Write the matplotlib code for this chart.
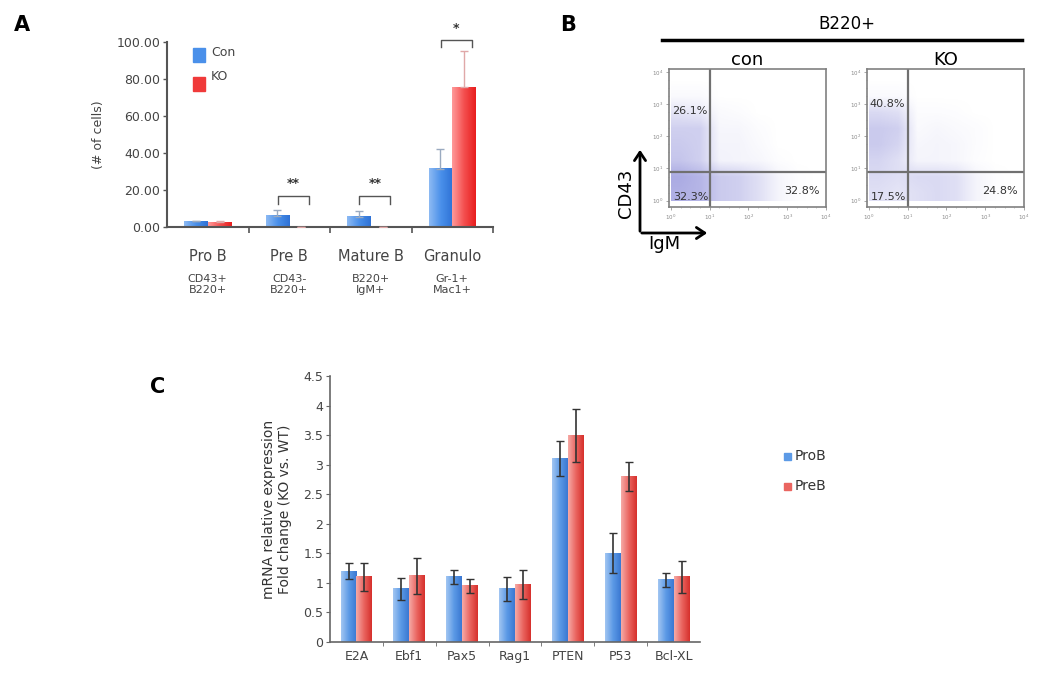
import numpy as np
import matplotlib
matplotlib.use('Agg')
import matplotlib.pyplot as plt
from matplotlib.colors import LinearSegmentedColormap
from matplotlib.patches import Rectangle

# ---- panel A data
a_cats = ['Pro B', 'Pre B', 'Mature B', 'Granulo']
a_sub = ['CD43+\nB220+', 'CD43-\nB220+', 'B220+\nIgM+', 'Gr-1+\nMac1+']
a_con = [3.0, 6.0, 5.5, 31.5]
a_con_err = [0.5, 3.0, 3.0, 10.5]
a_ko = [2.5, 0.0, 0.0, 75.5]
a_ko_err = [0.5, 0.0, 0.0, 19.5]
a_sig = ['', '**', '**', '*']
a_sig_y = [0, 17, 17, 101]
a_yticks = [0, 20, 40, 60, 80, 100]

# ---- panel B data (log10 decades), density read by eye on an 8x8 grid
b_titles = ['con', 'KO']
b_dens_con = [[0.00, 0.00, 0.00, 0.00, 0.00, 0.00, 0.00, 0.00],
              [0.05, 0.05, 0.00, 0.00, 0.00, 0.00, 0.00, 0.00],
              [0.25, 0.20, 0.05, 0.03, 0.00, 0.00, 0.00, 0.00],
              [0.45, 0.45, 0.08, 0.08, 0.03, 0.00, 0.00, 0.00],
              [0.50, 0.45, 0.10, 0.10, 0.05, 0.00, 0.00, 0.00],
              [0.55, 0.45, 0.12, 0.10, 0.08, 0.02, 0.00, 0.00],
              [0.80, 0.70, 0.50, 0.45, 0.30, 0.10, 0.02, 0.00],
              [0.75, 0.70, 0.50, 0.45, 0.30, 0.10, 0.02, 0.00]]
b_dens_ko = [[0.00, 0.00, 0.00, 0.00, 0.00, 0.00, 0.00, 0.00],
             [0.05, 0.05, 0.00, 0.00, 0.00, 0.00, 0.00, 0.00],
             [0.35, 0.30, 0.03, 0.03, 0.02, 0.00, 0.00, 0.00],
             [0.50, 0.45, 0.05, 0.08, 0.05, 0.03, 0.00, 0.00],
             [0.50, 0.40, 0.08, 0.10, 0.08, 0.03, 0.00, 0.00],
             [0.40, 0.30, 0.10, 0.10, 0.08, 0.02, 0.00, 0.00],
             [0.35, 0.30, 0.35, 0.35, 0.30, 0.10, 0.02, 0.00],
             [0.30, 0.25, 0.30, 0.35, 0.30, 0.10, 0.02, 0.00]]
b_gate_x = 1.0
b_gate_y = 0.9
b_pct_con = ['26.1%', '32.3%', '32.8%']
b_pct_ko = ['40.8%', '17.5%', '24.8%']
b_pct_ul_y = [2.8, 3.0]

# ---- panel C data
c_genes = ['E2A', 'Ebf1', 'Pax5', 'Rag1', 'PTEN', 'P53', 'Bcl-XL']
c_prob = [1.2, 0.9, 1.1, 0.9, 3.1, 1.5, 1.05]
c_prob_err = [0.13, 0.19, 0.12, 0.2, 0.3, 0.34, 0.12]
c_preb = [1.1, 1.12, 0.95, 0.97, 3.5, 2.8, 1.1]
c_preb_err = [0.23, 0.3, 0.12, 0.25, 0.45, 0.25, 0.27]

W, H = 1050, 674
fig = plt.figure(figsize=(10.5, 6.74), dpi=100)
plt.rcParams['font.family'] = ['DejaVu Sans']


def rect(l, t, r, b):
    return [l / W, 1 - b / H, (r - l) / W, (b - t) / H]


def fx(x):
    return x / W


def fy(y):
    return 1 - y / H


def grad_bars(ax, x, h, w, colors):
    bars = ax.bar(x, h, w, color=colors[-1], zorder=2)
    cmap = LinearSegmentedColormap.from_list('g', colors)
    g = np.linspace(0, 1, 64).reshape(1, -1)
    for b in bars:
        x0, y0 = b.get_x(), b.get_y()
        if b.get_height() <= 0:
            continue
        ax.imshow(g, extent=(x0, x0 + b.get_width(), y0, y0 + b.get_height()),
                  aspect='auto', cmap=cmap, zorder=2.1, interpolation='bilinear')
    return bars


# ================= Panel A
axA = fig.add_axes(rect(167, 42, 493, 227))
xa = np.arange(len(a_cats)) + 0.5
bw = 0.29
grad_bars(axA, xa - bw / 2, a_con, bw, ['#8dbaf3', '#4a90ea', '#2f72d6'])
grad_bars(axA, xa + bw / 2, a_ko, bw, ['#ff9a9a', '#f45050', '#e81e1e'])
axA.errorbar(xa - bw / 2, a_con, yerr=[np.zeros(4), a_con_err], fmt='none',
             ecolor='#9aaac0', elinewidth=1, capsize=3, zorder=3)
axA.errorbar(xa + bw / 2, a_ko, yerr=[np.zeros(4), a_ko_err], fmt='none',
             ecolor='#e0a8a8', elinewidth=1, capsize=3, zorder=3)
for i, s in enumerate(a_sig):
    if not s:
        continue
    y = a_sig_y[i]
    x0, x1 = xa[i] - 0.14, xa[i] + 0.24
    leg = 4.5 if i < 3 else 3.5
    axA.plot([x0, x0, x1, x1], [y - leg, y, y, y - leg], color='#555555',
             lw=1, clip_on=False)
    axA.text((x0 + x1) / 2, y + 3, s, ha='center', va='bottom', fontsize=9,
             color='#333333', fontweight='bold')
axA.set_xlim(0, 4)
axA.set_ylim(0, 100)
axA.set_yticks(a_yticks)
axA.set_yticklabels(['%.2f' % v for v in a_yticks], fontsize=9, color='#444444')
axA.set_xticks([1, 2, 3, 4])
axA.set_xticklabels([])
axA.tick_params(axis='x', direction='out', length=4, width=1.2, color='#555555')
axA.tick_params(axis='y', direction='out', length=3, width=1, color='#555555', pad=2)
for sp in ['top', 'right']:
    axA.spines[sp].set_visible(False)
for sp in ['left', 'bottom']:
    axA.spines[sp].set_color('#555555')
    axA.spines[sp].set_linewidth(1.5)
axA.set_ylabel('(# of cells)', fontsize=9, color='#444444', labelpad=8)
for i in range(len(a_cats)):
    axA.text(xa[i], -16, a_cats[i], ha='center', va='center', fontsize=10.5,
             color='#444444', clip_on=False)
    axA.text(xa[i], -31, a_sub[i], ha='center', va='center', fontsize=8,
             color='#444444', linespacing=1.1, clip_on=False)
# legend A
fig.add_artist(Rectangle((fx(193), fy(62)), fx(12), 14 / H, transform=fig.transFigure,
                         color='#4a90ea'))
fig.add_artist(Rectangle((fx(193), fy(91)), fx(12), 14 / H, transform=fig.transFigure,
                         color='#f03a3a'))
fig.text(fx(211), fy(52), 'Con', fontsize=9, color='#444444', va='center')
fig.text(fx(211), fy(76), 'KO', fontsize=9, color='#444444', va='center')
fig.text(fx(14), fy(25), 'A', fontsize=15, fontweight='bold', va='center')

# ================= Panel B
fig.text(fx(560), fy(25), 'B', fontsize=15, fontweight='bold', va='center')
fig.text(fx(847), fy(24), 'B220+', fontsize=12, ha='center', va='center')
fig.add_artist(plt.Line2D([fx(662), fx(1022)], [fy(40), fy(40)], color='black',
                          lw=2.5, transform=fig.transFigure))
bcmap = LinearSegmentedColormap.from_list('b', ['#ffffff', '#9696dc'])
b_dens = [b_dens_con, b_dens_ko]
b_pcts = [b_pct_con, b_pct_ko]
for k, (l, r) in enumerate([(669, 826), (867, 1024)]):
    ax = fig.add_axes(rect(l, 69, r, 207))
    ax.imshow(np.array(b_dens[k]), extent=(0, 4, 0, 4), cmap=bcmap, vmin=0, vmax=1,
              interpolation='bilinear', aspect='auto', zorder=0)
    ax.set_xlim(-0.05, 4.0)
    ax.set_ylim(-0.2, 4.1)
    ax.axvline(b_gate_x, color='#707070', lw=1.6)
    ax.axhline(b_gate_y, color='#707070', lw=1.6)
    for sp in ax.spines.values():
        sp.set_color('#808080')
        sp.set_linewidth(1.2)
    ax.set_xticks(range(5))
    ax.set_yticks(range(5))
    ax.set_xticklabels(['$10^%d$' % i for i in range(5)], fontsize=4, color='#888888')
    ax.set_yticklabels(['$10^%d$' % i for i in range(5)], fontsize=4, color='#888888')
    ax.tick_params(length=2, width=0.6, color='#999999', pad=2)
    ax.set_xticks(np.arange(0, 4, 0.25), minor=True)
    ax.set_yticks(np.arange(0, 4, 0.25), minor=True)
    ax.tick_params(which='minor', length=1, width=0.5, color='#aaaaaa')
    ax.text(0.02, b_pct_ul_y[k], b_pcts[k][0], fontsize=8, color='#333333', va='center')
    ax.text(0.05, 0.1, b_pcts[k][1], fontsize=8, color='#333333', va='center')
    ax.text(3.85, 0.3, b_pcts[k][2], fontsize=8, color='#333333', va='center', ha='right')
    ax.set_title(b_titles[k], fontsize=13, pad=3)
fig.add_artist(matplotlib.patches.FancyArrowPatch((fx(640), fy(234)), (fx(640), fy(147)),
               transform=fig.transFigure, arrowstyle='->,head_width=4,head_length=6',
               lw=2, color='black'))
fig.add_artist(matplotlib.patches.FancyArrowPatch((fx(639), fy(233)), (fx(710), fy(233)),
               transform=fig.transFigure, arrowstyle='->,head_width=4,head_length=6',
               lw=2, color='black'))
fig.text(fx(626), fy(193), 'CD43', fontsize=13, rotation=90, ha='center', va='center')
fig.text(fx(664), fy(244), 'IgM', fontsize=13, ha='center', va='center')

# ================= Panel C
axC = fig.add_axes(rect(330, 376, 700, 642))
xc = np.arange(len(c_genes)) + 0.5
cw = 0.3
grad_bars(axC, xc - cw / 2, c_prob, cw, ['#a2c6f2', '#5c9ae6', '#3b78d2'])
grad_bars(axC, xc + cw / 2, c_preb, cw, ['#f6aaa6', '#ea6560', '#d6302c'])
axC.errorbar(xc - cw / 2, c_prob, yerr=c_prob_err, fmt='none', ecolor='#333333',
             elinewidth=1.2, capsize=3, zorder=3)
axC.errorbar(xc + cw / 2, c_preb, yerr=c_preb_err, fmt='none', ecolor='#333333',
             elinewidth=1.2, capsize=3, zorder=3)
axC.set_xlim(0, len(c_genes))
axC.set_ylim(0, 4.5)
axC.set_yticks(np.arange(0, 4.6, 0.5))
axC.set_yticklabels(['0', '0.5', '1', '1.5', '2', '2.5', '3', '3.5', '4', '4.5'],
                    fontsize=9, color='#444444')
axC.set_xticks(xc)
axC.set_xticklabels(c_genes, fontsize=9, color='#444444')
axC.tick_params(axis='x', length=0, pad=6)
axC.set_xticks(np.arange(1, len(c_genes)), minor=True)
axC.tick_params(axis='x', which='minor', length=3, color='#666666')
axC.tick_params(axis='y', direction='out', length=3, color='#666666', pad=2)
for sp in ['top', 'right']:
    axC.spines[sp].set_visible(False)
for sp in ['left', 'bottom']:
    axC.spines[sp].set_color('#666666')
    axC.spines[sp].set_linewidth(1.2)
axC.set_ylabel('mRNA relative expression\nFold change (KO vs. WT)', fontsize=10,
               color='#333333', labelpad=8)
fig.add_artist(Rectangle((fx(784), fy(460)), fx(7), 7 / H, transform=fig.transFigure,
                         color='#5c9ae6'))
fig.add_artist(Rectangle((fx(784), fy(490)), fx(7), 7 / H, transform=fig.transFigure,
                         color='#ea6560'))
fig.text(fx(795), fy(456), 'ProB', fontsize=10, color='#333333', va='center')
fig.text(fx(795), fy(486), 'PreB', fontsize=10, color='#333333', va='center')
fig.text(fx(150), fy(387), 'C', fontsize=15, fontweight='bold', va='center')

fig.savefig('out.png', dpi=100)
